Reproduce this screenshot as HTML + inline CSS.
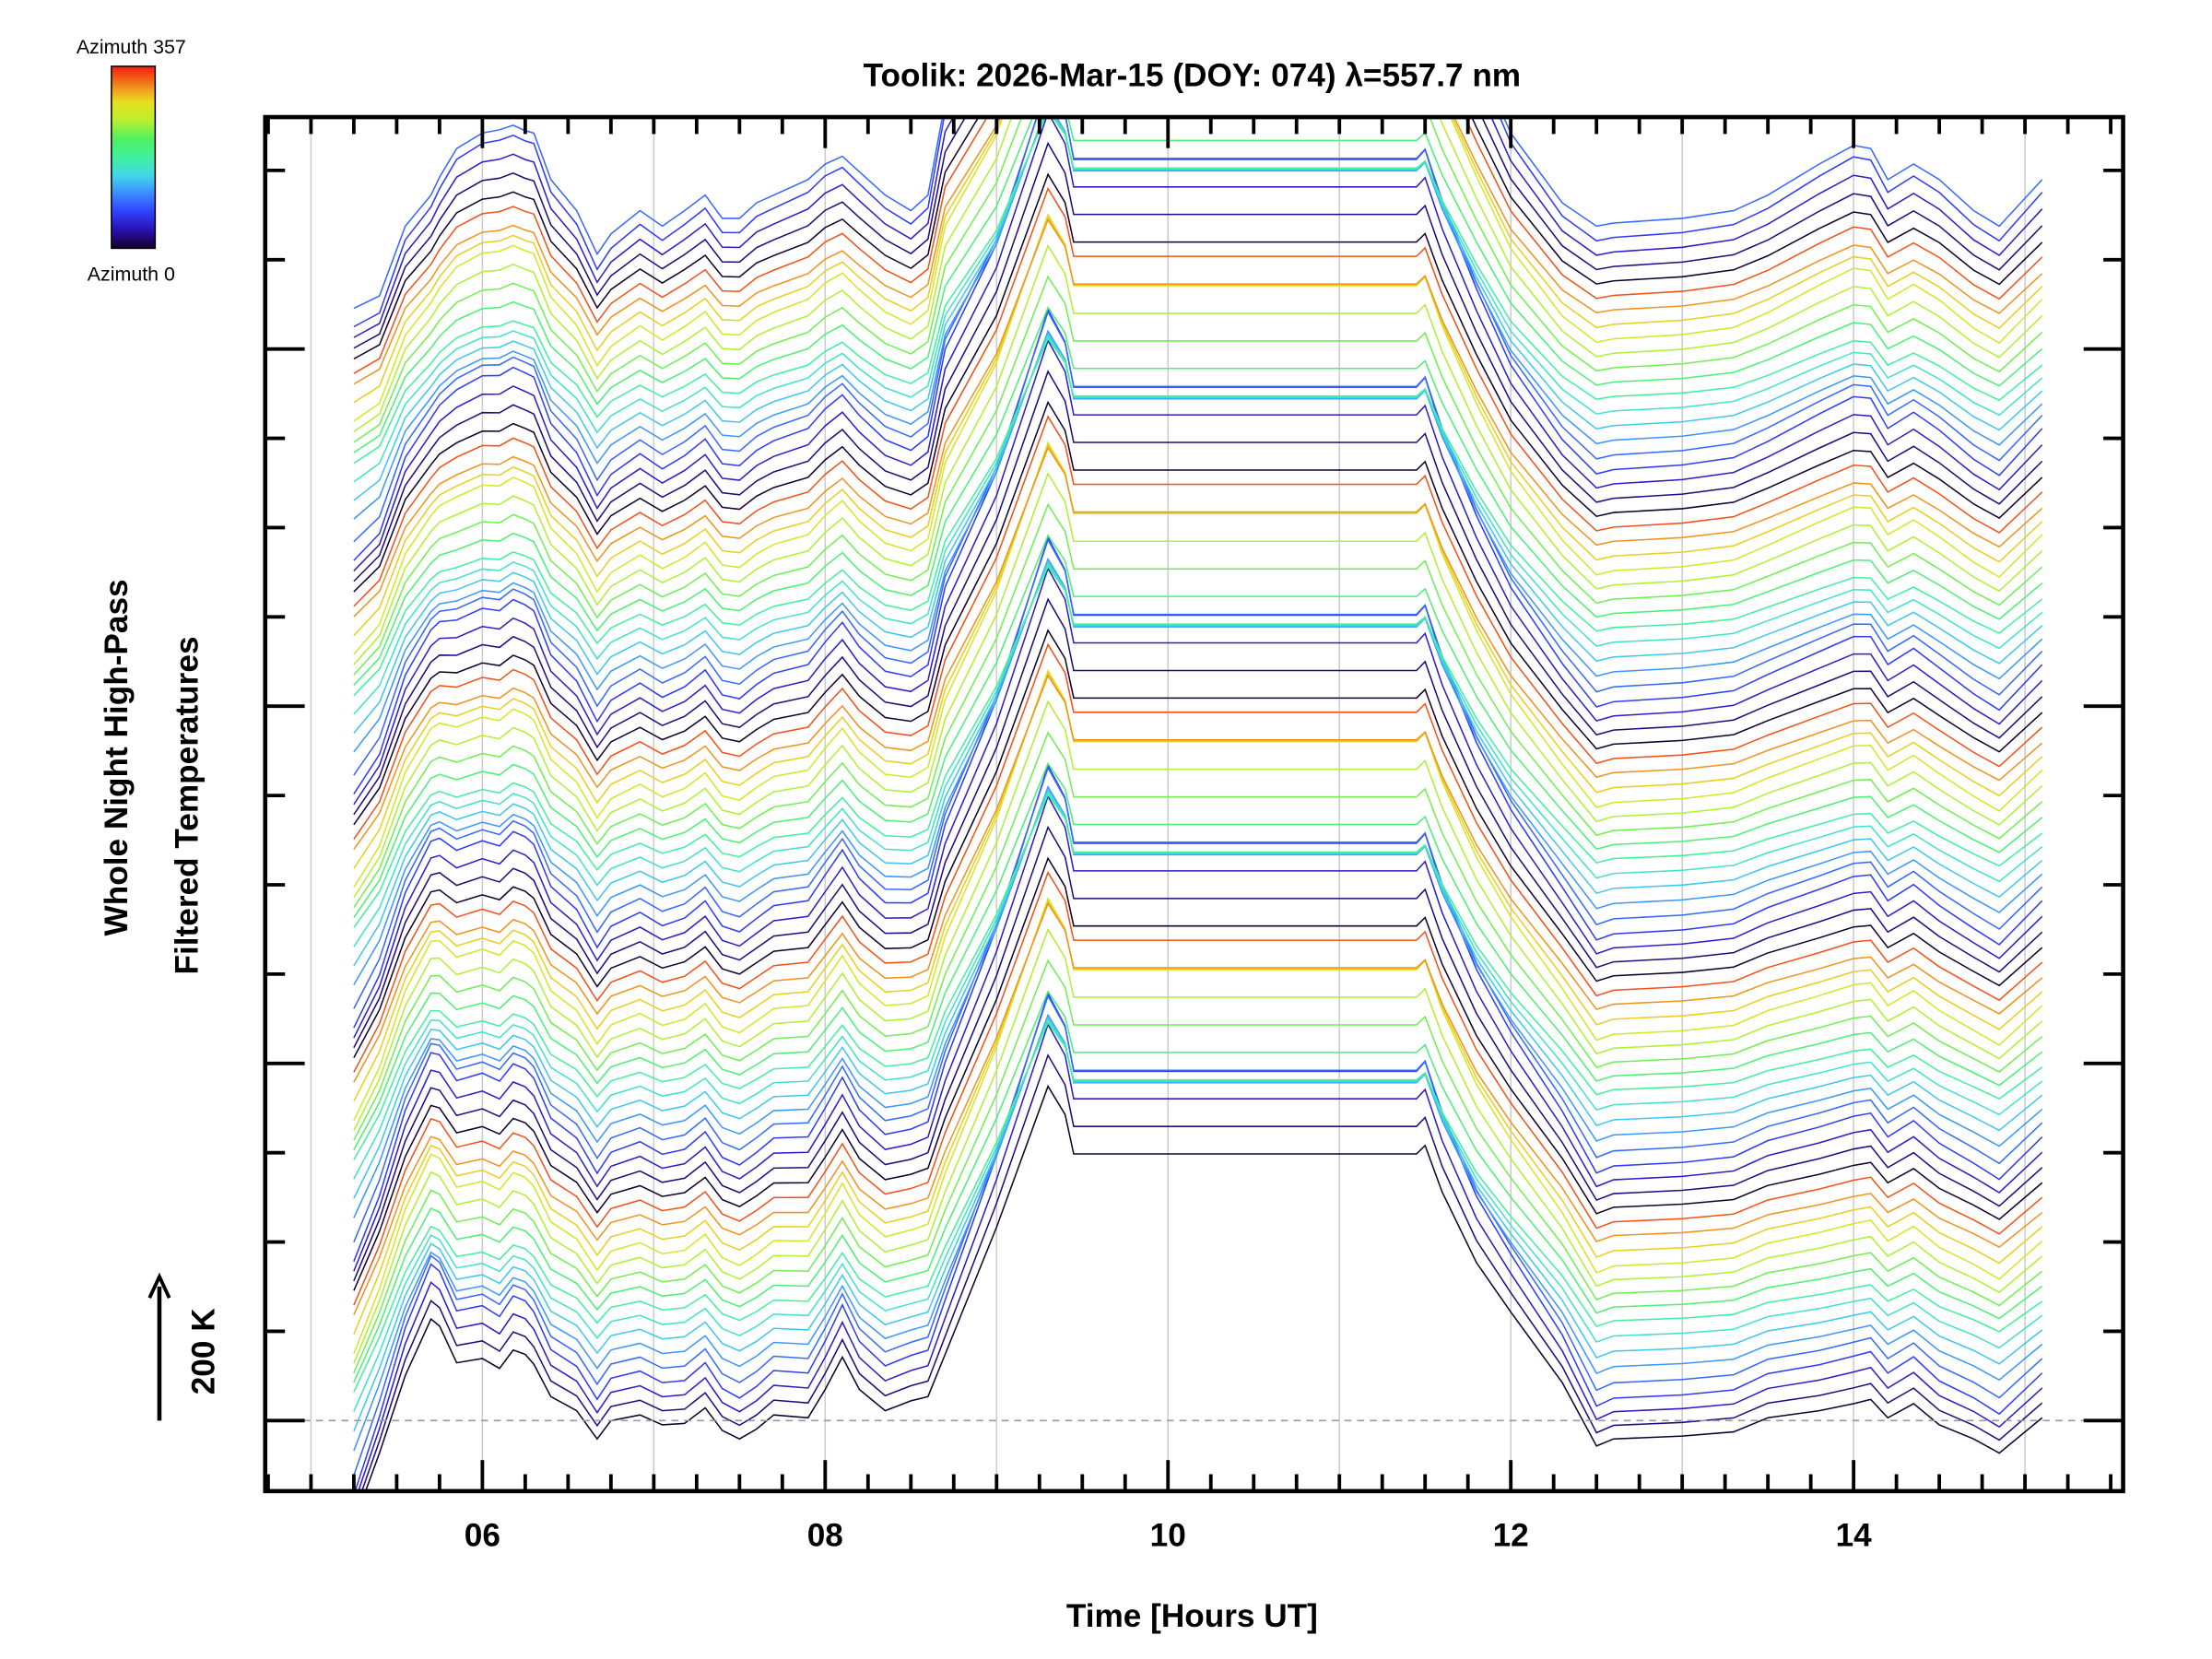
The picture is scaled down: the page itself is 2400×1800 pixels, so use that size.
<!DOCTYPE html>
<html><head><meta charset="utf-8"><style>
html,body{margin:0;padding:0;background:#fff;}
svg{display:block;}
text{font-family:"Liberation Sans",sans-serif;}
</style></head><body>
<svg id="chart" width="2400" height="1800" viewBox="0 0 1568 1176" xmlns="http://www.w3.org/2000/svg">
<defs>
<linearGradient id="cbar" x1="0" y1="1" x2="0" y2="0">
<stop offset="0" stop-color="#12002a"/><stop offset="0.1" stop-color="#2a10b0"/><stop offset="0.2" stop-color="#3040ff"/>
<stop offset="0.3" stop-color="#3a8cff"/><stop offset="0.4" stop-color="#40d8e8"/><stop offset="0.5" stop-color="#40f0a0"/>
<stop offset="0.6" stop-color="#50f060"/><stop offset="0.7" stop-color="#b8f030"/><stop offset="0.8" stop-color="#e8e020"/>
<stop offset="0.87" stop-color="#f0a020"/><stop offset="0.93" stop-color="#f06018"/><stop offset="1" stop-color="#ff1a10"/>
</linearGradient>
<clipPath id="plotclip"><rect x="188" y="83" width="1317" height="974"/></clipPath>
</defs>
<g id="grid"></g>
<g id="traces" clip-path="url(#plotclip)"></g>
<line x1="188" y1="1007" x2="1505" y2="1007" stroke="#999" stroke-width="1" stroke-dasharray="5,4"/>
<rect x="188" y="83" width="1317" height="974" fill="none" stroke="#000" stroke-width="3"/>
<g id="ticks"></g>
<text x="845" y="61" text-anchor="middle" font-size="23" font-weight="bold">Toolik: 2026-Mar-15 (DOY: 074) λ=557.7 nm</text>
<text x="845" y="1153" text-anchor="middle" font-size="23" font-weight="bold">Time [Hours UT]</text>
<text transform="translate(90,537) rotate(-90)" text-anchor="middle" font-size="23" font-weight="bold">Whole Night High-Pass</text>
<text transform="translate(140,571) rotate(-90)" text-anchor="middle" font-size="23" font-weight="bold">Filtered Temperatures</text>
<g>
<line x1="113" y1="1007" x2="113" y2="912" stroke="#000" stroke-width="3"/>
<path d="M106,920 L113,905 L120,920" fill="none" stroke="#000" stroke-width="2.5"/>
</g>
<text transform="translate(152,958) rotate(-90)" text-anchor="middle" font-size="23" font-weight="bold">200 K</text>
<g>
<text x="93" y="38" text-anchor="middle" font-size="14">Azimuth 357</text>
<rect x="79" y="47" width="31" height="129" fill="url(#cbar)" stroke="#000" stroke-width="1"/>
<text x="93" y="199" text-anchor="middle" font-size="14">Azimuth 0</text>
</g>
</svg>
<script>
const times = [5.25,5.4,5.55,5.7,5.75,5.85,6.0,6.1,6.18,6.25,6.3,6.4,6.55,6.67,6.75,6.92,7.05,7.18,7.3,7.4,7.5,7.6,7.7,7.9,8.0,8.1,8.2,8.35,8.5,8.6,8.7,9.0,9.3,9.4,9.45,11.45,11.5,11.6,11.8,12.0,12.3,12.5,12.6,13.0,13.3,13.5,13.8,14.0,14.1,14.2,14.35,14.5,14.7,14.85,15.1];
// profile of the lowest trace, K relative to its offset
const bottomProfile = [-146,-46,64,144,134,82,88,74,100,94,80,34,14,-26,0,8,-6,-4,18,-14,-26,-12,8,4,44,90,44,14,28,34,94,274,474,434,378,378,390,324,224,154,54,-36,-26,-22,-16,4,14,24,30,4,24,-6,-26,-46,4];
// profile of the top trace, K relative to its offset
const topProfile = [-109,-93,-3,37,60,97,117,121,127,120,117,57,17,-39,-13,17,-3,17,37,7,7,27,37,57,77,87,67,37,17,37,157,274,474,434,378,378,390,324,217,117,27,-3,1,7,17,37,77,101,97,57,77,57,17,-3,57];
const traceCount = 85;
const traceSpacingK = 20.2;
const azimuthStepDeg = 22.5;
const ampByAzIndex = [1.0,1.05,1.1,1.15,1.1,1.0,0.95,0.9,0.85,0.9,0.95,1.0,1.05,1.0,0.95,1.0];
const xTickLabels = ["06","08","10","12","14"];
const xTickHours = [6,8,10,12,14];

const NS="http://www.w3.org/2000/svg";
const X0=188,X1=1505,Y0=83,Y1=1057;
const H0=4.733, PXH=121.5;
function xScale(h){return X0+(h-H0)*PXH;}
function yScale(k){return 1007-k/2;}
const stops=[[0,[18,0,42]],[0.1,[42,16,176]],[0.2,[48,64,255]],[0.3,[58,140,255]],[0.4,[64,216,232]],[0.5,[64,240,160]],[0.6,[80,240,96]],[0.7,[184,240,48]],[0.8,[232,224,32]],[0.87,[240,160,32]],[0.93,[240,96,24]],[1,[255,26,16]]];
function cmap(f){for(let i=1;i<stops.length;i++){if(f<=stops[i][0]){const a=stops[i-1],b=stops[i];const t=(f-a[0])/(b[0]-a[0]);return 'rgb('+a[1].map((v,j)=>Math.round(v+(b[1][j]-v)*t)).join(',')+')';}}return 'rgb(255,26,16)';}

const grid=document.getElementById('grid');
for(let h=5;h<=15;h++){
  const l=document.createElementNS(NS,'line');
  
  
  l.setAttribute('x1',xScale(h));l.setAttribute('x2',xScale(h));l.setAttribute('y1',Y0);l.setAttribute('y2',Y1);
  l.setAttribute('stroke','#ccc');l.setAttribute('stroke-width','1');
  grid.appendChild(l);
}
const tr=document.getElementById('traces');
for(let i=0;i<traceCount;i++){
  const az=i%16;
  const amp=ampByAzIndex[az];
  const off=i*traceSpacingK;
  const w=i/(traceCount-1);
  const pts=times.map((t,j)=>{
    const v=(1-w)*bottomProfile[j]+w*topProfile[j];
    return xScale(t).toFixed(1)+','+yScale(off+amp*v).toFixed(1);
  }).join(' ');
  const p=document.createElementNS(NS,'polyline');
  
  
  p.setAttribute('points',pts);
  p.setAttribute('fill','none');
  p.setAttribute('stroke',cmap(az*azimuthStepDeg/357));
  p.setAttribute('stroke-width','1');
  tr.appendChild(p);
}
const tk=document.getElementById('ticks');
function tick(x1,y1,x2,y2,w){
  const l=document.createElementNS(NS,'line');
  
  
  l.setAttribute('x1',x1);l.setAttribute('y1',y1);l.setAttribute('x2',x2);l.setAttribute('y2',y2);
  l.setAttribute('stroke','#000');l.setAttribute('stroke-width',w);
  tk.appendChild(l);
}
for(let q=0;;q++){
  const h=4.75+q*0.25; if(h>15.55)break;
  const x=xScale(h); const major=Math.abs(h-Math.round(h))<1e-6 && Math.round(h)%2===0;
  const len=major?22:12;
  tick(x,Y1,x,Y1-len,2.5); tick(x,Y0,x,Y0+len,2.5);
}
for(let k=0;k<15;k++){
  const y=1007-k*63.3; const major=k%4===0;
  const len=major?28:14;
  tick(X0,y,X0+len,y,2.5); tick(X1,y,X1-len,y,2.5);
}
xTickLabels.forEach((s,i)=>{
  const t=document.createElementNS(NS,'text');
  
  
  t.setAttribute('x',xScale(xTickHours[i]));t.setAttribute('y',1096);
  t.setAttribute('text-anchor','middle');t.setAttribute('font-size','23');t.setAttribute('font-weight','bold');
  t.textContent=s; tk.appendChild(t);
});
</script>
</body></html>
